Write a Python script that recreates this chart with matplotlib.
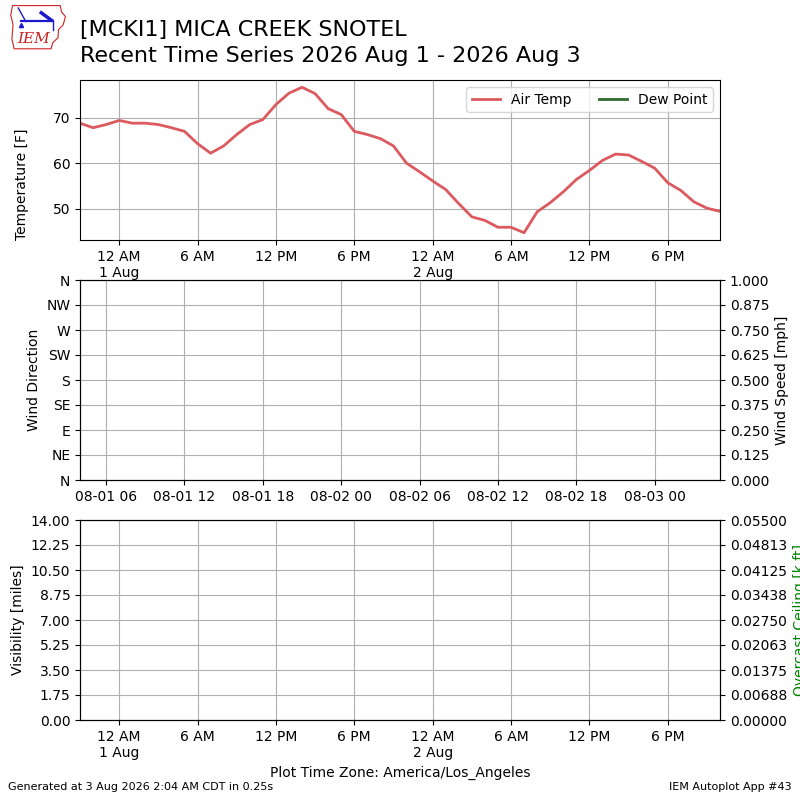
import datetime
import numpy as np
import matplotlib
matplotlib.use("Agg")
import matplotlib.pyplot as plt
import matplotlib.dates as mdates
from matplotlib.ticker import FixedLocator, FuncFormatter
from matplotlib.patches import Polygon

# hourly obs, local time (America/Los_Angeles), starting 31 Jul 2026 9 PM
start = datetime.datetime(2026, 7, 31, 21, 0)
air_temp = [68.8, 67.8, 68.5, 69.4, 68.8, 68.8, 68.5, 67.8, 67.0, 64.3,
            62.2, 63.8, 66.3, 68.5, 69.6, 72.9, 75.4, 76.7, 75.3, 72.0,
            70.7, 67.0, 66.3, 65.4, 63.8, 60.0, 58.1, 56.1, 54.2, 51.1,
            48.2, 47.4, 45.9, 45.9, 44.7, 49.3, 51.3, 53.7, 56.4, 58.4,
            60.6, 62.0, 61.8, 60.4, 58.9, 55.7, 54.0, 51.5, 50.1, 49.4]
times = [start + datetime.timedelta(hours=i) for i in range(len(air_temp))]
dew_point = []
utc_offset = datetime.timedelta(hours=7)

dir_ticks = [0, 45, 90, 135, 180, 225, 270, 315, 360]
dir_labels = ["N", "NE", "E", "SE", "S", "SW", "W", "NW", "N"]
speed_ticks = np.linspace(0, 1, 9)
vis_ticks = np.linspace(0, 14, 9)
ceil_ticks = np.linspace(0, 0.055, 9)


def time_fmt(x, pos=None):
    dt = mdates.num2date(x).replace(tzinfo=None)
    label = dt.strftime("%-I %p")
    if dt.hour == 0:
        label += "\n" + dt.strftime("%-d %b")
    return label


fig = plt.figure(figsize=(8, 8), dpi=100)

fig.text(0.1, 0.962, "[MCKI1] MICA CREEK SNOTEL", fontsize=16, va="center")
fig.text(0.1, 0.930, "Recent Time Series 2026 Aug 1 - 2026 Aug 3",
         fontsize=16, va="center")
fig.text(0.01, 0.012, "Generated at 3 Aug 2026 2:04 AM CDT in 0.25s",
         fontsize=8)
fig.text(0.99, 0.012, "IEM Autoplot App #43", fontsize=8, ha="right")

# rough IEM logo
lax = fig.add_axes([0.012, 0.936, 0.072, 0.06])
lax.set_xlim(0, 1)
lax.set_ylim(0, 1)
lax.axis("off")
iowa = [(0.05, 0.95), (0.88, 0.95), (0.9, 0.82), (0.97, 0.72), (0.93, 0.55),
        (0.85, 0.45), (0.84, 0.28), (0.75, 0.18), (0.72, 0.05), (0.08, 0.05),
        (0.04, 0.25), (0.06, 0.55), (0.02, 0.75)]
lax.add_patch(Polygon(iowa, closed=True, fill=False, ec="#cc2222", lw=0.8))
lax.text(0.42, 0.25, "IEM", color="#cc2222", fontsize=11, ha="center",
         va="center", family="serif", style="italic")
lax.plot([0.2, 0.75], [0.62, 0.62], color="#1a1acc", lw=1.6)
lax.plot([0.15, 0.28], [0.9, 0.62], color="#1a1acc", lw=1)
lax.plot([0.55, 0.72], [0.8, 0.65], color="#1a1acc", lw=2.5)
lax.plot([0.75, 0.75], [0.62, 0.45], color="#1a1acc", lw=1)
lax.plot([0.2], [0.55], "^", color="#1a1acc", ms=3)

# temperature panel
ax1 = fig.add_axes([0.1, 0.7, 0.8, 0.2])
ax1.plot(times, air_temp, color="#dc5a5f", lw=2, label="Air Temp")
ax1.plot(times[:len(dew_point)], dew_point, color="#2e6b2e", lw=2,
         label="Dew Point")
ax1.set_xlim(times[0], times[-1])
ax1.xaxis.set_major_locator(mdates.HourLocator(byhour=[0, 6, 12, 18]))
ax1.xaxis.set_major_formatter(FuncFormatter(time_fmt))
ax1.set_ylabel("Temperature [F]", loc="bottom")
ax1.yaxis.set_label_coords(-0.08, 0)
ax1.grid(True)
ax1.legend(loc="upper right", ncol=2)

# wind panel (no data)
ax2 = fig.add_axes([0.1, 0.4, 0.8, 0.25])
ax2.set_xlim(times[0] + utc_offset, times[-1] + utc_offset)
ax2.xaxis.set_major_locator(mdates.HourLocator(byhour=[0, 6, 12, 18]))
ax2.xaxis.set_major_formatter(mdates.DateFormatter("%m-%d %H"))
ax2.set_ylim(0, 360)
ax2.set_yticks(dir_ticks)
ax2.set_yticklabels(dir_labels)
ax2.set_ylabel("Wind Direction")
ax2.grid(True)
ax2r = ax2.twinx()
ax2r.set_ylim(0, 1)
ax2r.yaxis.set_major_locator(FixedLocator(speed_ticks))
ax2r.yaxis.set_major_formatter(FuncFormatter(lambda v, p: "%.3f" % v))
ax2r.set_ylabel("Wind Speed [mph]")

# visibility / ceiling panel (no data)
ax3 = fig.add_axes([0.1, 0.1, 0.8, 0.25])
ax3.set_xlim(times[0], times[-1])
ax3.xaxis.set_major_locator(mdates.HourLocator(byhour=[0, 6, 12, 18]))
ax3.xaxis.set_major_formatter(FuncFormatter(time_fmt))
ax3.set_ylim(0, 14)
ax3.yaxis.set_major_locator(FixedLocator(vis_ticks))
ax3.yaxis.set_major_formatter(FuncFormatter(lambda v, p: "%.2f" % v))
ax3.set_ylabel("Visibility [miles]")
ax3.set_xlabel("Plot Time Zone: America/Los_Angeles")
ax3.grid(True)
ax3r = ax3.twinx()
ax3r.set_ylim(0, 0.055)
ax3r.yaxis.set_major_locator(FixedLocator(ceil_ticks))
ax3r.yaxis.set_major_formatter(FuncFormatter(lambda v, p: "%.5f" % v))
ax3r.set_ylabel("Overcast Ceiling [k ft]", color="green")

fig.savefig("out.png", dpi=100)
